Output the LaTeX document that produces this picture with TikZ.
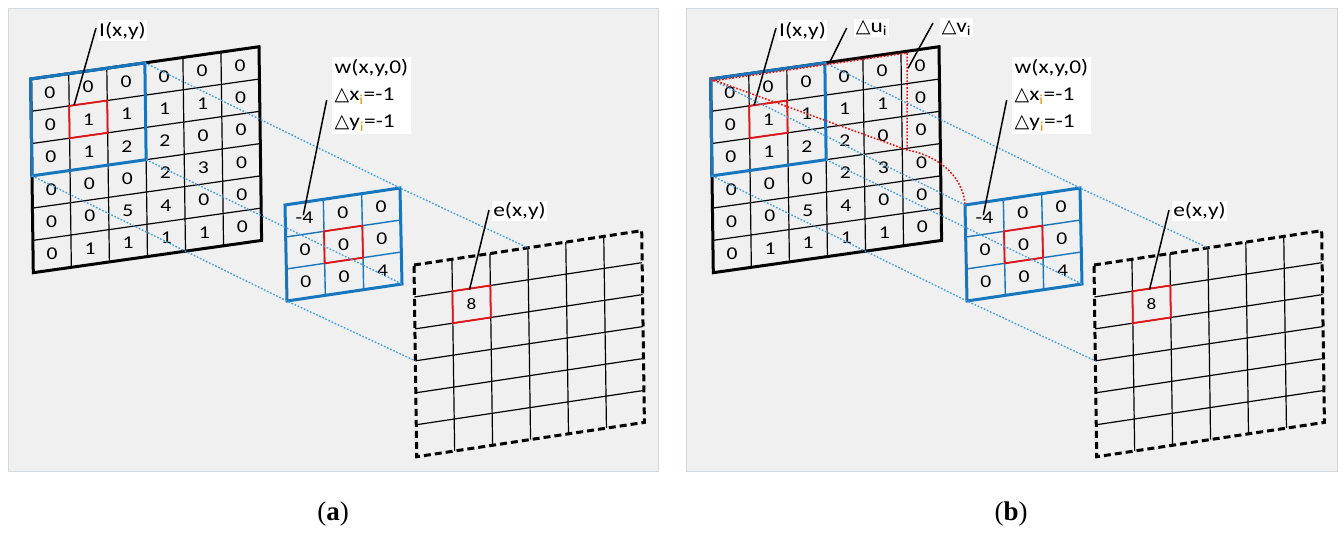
\documentclass[tikz,border=0pt]{standalone}
\usepackage{fontspec}
\setmainfont{Carlito}[FakeStretch=1.2]
\newfontfamily\symfont{DejaVu Sans}
\newfontfamily\capfont{Liberation Serif}
\usetikzlibrary{calc}
\definecolor{panelbg}{RGB}{240,240,240}
\definecolor{panelborder}{RGB}{210,216,224}
\definecolor{bluebox}{RGB}{22,118,190}
\definecolor{dotblue}{RGB}{70,162,222}
\definecolor{redbox}{RGB}{230,20,20}
\definecolor{subor}{RGB}{225,150,30}
\tikzset{
  panel/.style={fill=panelbg, draw=panelborder, line width=1pt},
  gridline/.style={line width=1.2pt, black},
  gridborder/.style={line width=3pt, black, line join=miter},
  bluebord/.style={line width=3pt, draw=bluebox, line join=miter},
  blueinner/.style={line width=1.4pt, draw=bluebox},
  redcell/.style={line width=1.8pt, draw=redbox},
  dashborder/.style={line width=3pt, black, dash pattern=on 7pt off 4pt},
  projline/.style={line width=1.4pt, dotblue, dash pattern=on 1.7pt off 1.7pt},
  redproj/.style={line width=1.5pt, redbox, dash pattern=on 1.7pt off 1.7pt},
  leader/.style={line width=1.5pt, black},
  lbl/.style={fill=white, inner sep=1.5pt, font=\fontsize{19.5}{22}\selectfont},
  num/.style={inner sep=0pt, font=\fontsize{18}{20}\selectfont},
  caplbl/.style={font=\capfont\fontsize{27}{30}\selectfont},
}
\newcommand\mytri{{\symfont\fontsize{19}{19}\selectfont △}}
\newcommand\drawpanel[2]{%
\begin{scope}[xshift=#1pt]
  % input image grid
  \begin{scope}[shift={(30.7,79)}, x={(38.05pt,5.38pt)}, y={(0.433pt,-32.28pt)}]
    \foreach \k in {1,...,5} {
      \draw[gridline] (\k,0) -- (\k,6);
      \draw[gridline] (0,\k) -- (6,\k);
    }
    \foreach \r [count=\j from 0] in {{0,0,0,0,0,0},{0,1,1,1,1,0},{0,1,2,2,0,0},{0,0,0,2,3,0},{0,0,5,4,0,0},{0,1,1,1,1,0}} {
      \foreach \v [count=\i from 0] in \r {
        \node[num] (#2-in-\i-\j) at (\i+0.5,\j+0.5) {\v};
      }
    }
    \draw[gridborder] (0,0) -- (6,0) -- (6,6) -- (0,6) -- cycle;
    \draw[bluebord] (0,0) -- (3,0) -- (3,3) -- (0,3) -- cycle;
    \draw[redcell] (1,1) -- (2,1) -- (2,2) -- (1,2) -- cycle;
    \coordinate (#2-gTL) at (0,0);
    \coordinate (#2-bTR) at (3,0);
    \coordinate (#2-bBL) at (0,3);
    \coordinate (#2-bBR) at (3,3);
    \coordinate (#2-Iend) at (1.13,1);
    \coordinate (#2-uend) at (3.13,0);
  \end{scope}
  % kernel
  \begin{scope}[shift={(285,205)}, x={(38.33pt,5.67pt)}, y={(0.67pt,-32pt)}]
    \foreach \k in {1,2} {
      \draw[blueinner] (\k,0) -- (\k,3);
      \draw[blueinner] (0,\k) -- (3,\k);
    }
    \foreach \r [count=\j from 0] in {{-4,0,0},{0,0,0},{0,0,4}} {
      \foreach \v [count=\i from 0] in \r {
        \node[num] (#2-k-\i-\j) at (\i+0.5,\j+0.5) {\v};
      }
    }
    \draw[bluebord] (0,0) -- (3,0) -- (3,3) -- (0,3) -- cycle;
    \draw[redcell] (1,1) -- (2,1) -- (2,2) -- (1,2) -- cycle;
    \coordinate (#2-kTL) at (0,0);
    \coordinate (#2-kTR) at (3,0);
    \coordinate (#2-kBL) at (0,3);
    \coordinate (#2-kBR) at (3,3);
    \coordinate (#2-wend) at (0.47,0.4);
  \end{scope}
  % output grid
  \begin{scope}[shift={(414,265)}, x={(37.95pt,5.72pt)}, y={(0.45pt,-31.95pt)}]
    \foreach \k in {1,...,5} {
      \draw[gridline] (\k,0) -- (\k,6);
      \draw[gridline] (0,\k) -- (6,\k);
    }
    \draw[dashborder] (0,0) -- (6,0) -- (6,6) -- (0,6) -- cycle;
    \draw[redcell] (1,1) -- (2,1) -- (2,2) -- (1,2) -- cycle;
    \node[num, font=\fontsize{16}{18}\selectfont] (#2-out) at (1.5,1.5) {8};
    \coordinate (#2-oT3) at (3,0);
    \coordinate (#2-oL3) at (0,3);
    \coordinate (#2-eend) at (1.45,1.03);
  \end{scope}
  % projection lines
  \draw[projline] (#2-bTR) -- (#2-kTR) -- (#2-oT3);
  \draw[projline] (#2-bBL) -- (#2-kBL) -- (#2-oL3);
  \draw[projline] (#2-bBR) -- (#2-kBR);
  % labels
  \node[lbl] (#2-Ilbl) at (122.5,30.5) {I(x,y)};
  \coordinate (#2-Istart) at (96,28);
  \draw[leader] (#2-Istart) -- (#2-Iend);
  \node[lbl, align=left, anchor=north west, inner sep=2.5pt, font=\fontsize{19.5}{27}\selectfont] (#2-wlbl) at (332,57)
    {w(x,y,0)\\\mytri x\textsubscript{\color{subor}i}=-1\\\mytri y\textsubscript{\color{subor}i}=-1};
  \coordinate (#2-wstart) at (326.7,100);
  \draw[leader] (#2-wstart) -- (#2-wend);
  \node[lbl] (#2-elbl) at (519.5,211) {e(x,y)};
  \coordinate (#2-estart) at (489,210);
  \draw[leader] (#2-estart) -- (#2-eend);
\end{scope}}

\begin{document}
\begin{tikzpicture}[x=1pt, y=-1pt]
  \useasboundingbox (0,0) rectangle (1344,538);
  \fill[white] (0,0) rectangle (1344,538);
  \path[panel] (8,8) rectangle (658,471);
  \path[panel] (686,8) rectangle (1337,471);
  \drawpanel{0}{a}
  \drawpanel{680}{b}
  \begin{scope}[xshift=680pt]
    % extra lines in (b)
    \draw[projline] (b-gTL) -- (b-kTL);
    \coordinate (b-rA) at (32,81);
    \coordinate (b-rB) at (227,53);
    \coordinate (b-rC) at (227,150);
    \draw[redproj] (b-rA) -- (b-rB) -- (b-rC);
    \draw[redproj] (b-gTL) -- (b-rC) .. controls (252,154) and (283,172) .. (b-kTL);
    \node[lbl] (b-ulbl) at (191.5,28) {\mytri u\textsubscript{i}};
    \coordinate (b-ustart) at (166.7,28);
    \draw[leader] (b-ustart) -- (b-uend);
    \node[lbl] (b-vlbl) at (276.5,27.5) {\mytri v\textsubscript{i}};
    \coordinate (b-vstart) at (253,23);
    \coordinate (b-vend) at (228,68.3);
    \draw[leader] (b-vstart) -- (b-vend);
  \end{scope}
  \node[caplbl] (capa) at (333,514) {(\textbf{a})};
  \node[caplbl] (capb) at (1011,514) {(\textbf{b})};
\end{tikzpicture}
\end{document}
